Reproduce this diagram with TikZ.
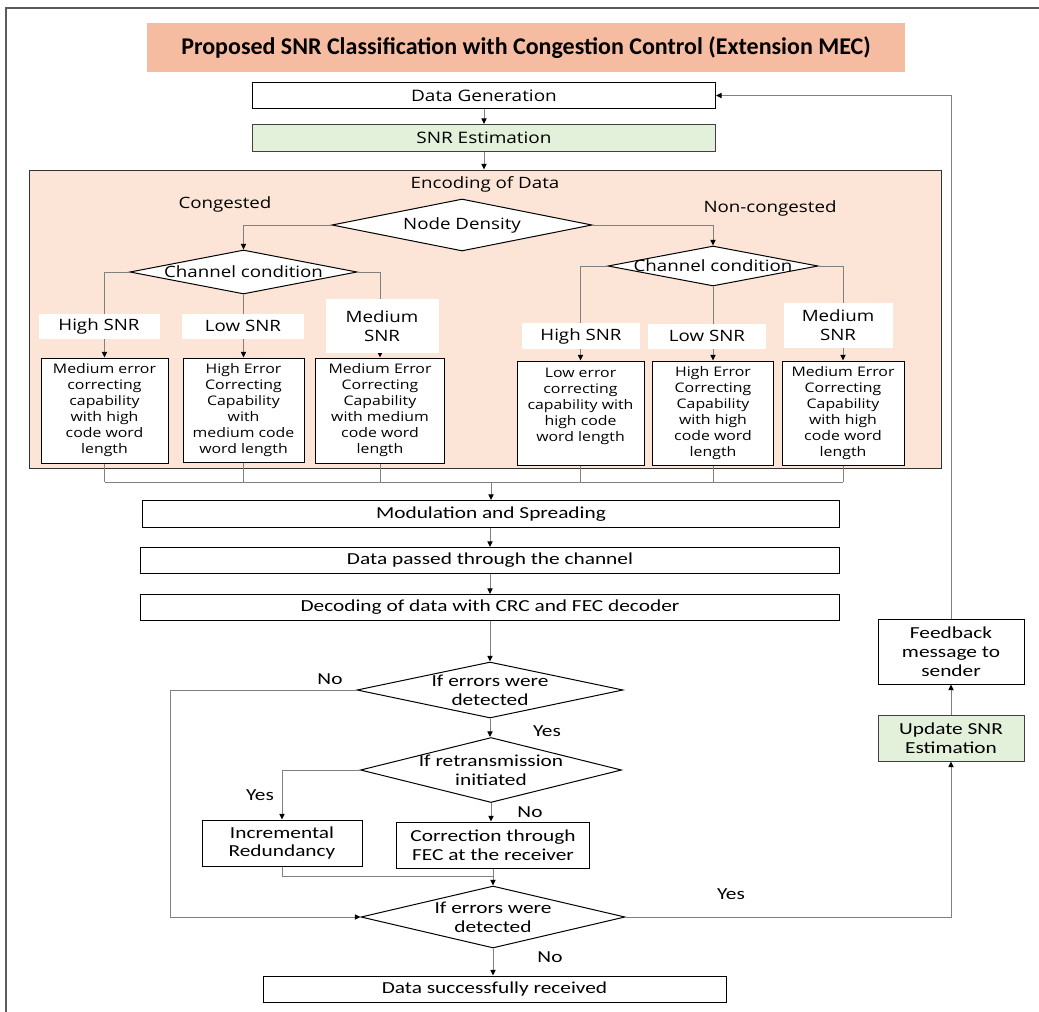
\documentclass[tikz,border=0pt]{standalone}
\usepackage{fontspec}
\setmainfont{Open Sans}[FakeStretch=1.2]
\newfontfamily\calfont{Carlito}[FakeStretch=1.27]
\newfontfamily\titlefam{Carlito}
\usepackage{tikz}
\usetikzlibrary{shapes.geometric,positioning,arrows.meta}

\definecolor{titlefill}{RGB}{246,188,162}
\definecolor{encfill}{RGB}{252,229,214}
\definecolor{snrfill}{RGB}{227,240,218}
\definecolor{framegray}{RGB}{90,90,90}
\definecolor{linegray}{RGB}{128,128,128}

\newcommand{\titlesize}{\titlefam\bfseries\fontsize{12}{14}\selectfont}
\newcommand{\topsize}{\fontsize{7.9}{9.5}\selectfont}
\newcommand{\labsize}{\fontsize{7.8}{9.4}\selectfont}
\newcommand{\boxsize}{\fontsize{6.6}{8}\selectfont}
\newcommand{\calsize}{\calfont\fontsize{8.4}{9.4}\selectfont}

\tikzset{
  conn/.style={draw=linegray, line width=0.5pt},
  flow/.style={conn, -{Triangle[length=2.8pt,width=2.6pt,color=black]}},
  procbox/.style={draw=black, line width=0.5pt, fill=white, inner sep=0pt, align=center, font=\calsize},
  topbox/.style={procbox, font=\topsize},
  greenbox/.style={procbox, fill=snrfill, draw=black!75},
  codebox/.style={draw=black, line width=0.5pt, fill=white, inner sep=0pt, align=center, font=\boxsize},
  snrlab/.style={fill=white, inner sep=0pt, align=center, font=\labsize},
  choice/.style={diamond, draw=black, line width=0.5pt, fill=white, inner sep=0pt},
  plain/.style={inner sep=0pt, font=\labsize},
  answer/.style={inner sep=0pt, font=\calsize}
}

\begin{document}
\begin{tikzpicture}[x=0.5pt, y=-0.5pt]

    \useasboundingbox (0,0) rectangle (1039,1012);
    \draw[framegray, line width=1pt] (6,1012) -- (6,8) -- (1039,8);

    % header and the first two steps
    \node[fill=titlefill, minimum width=379pt, minimum height=24.5pt, font=\titlesize] (title) at (526,47.5) {Proposed SNR Classification with Congestion Control (Extension MEC)};
    \node[topbox, minimum width=231.5pt, minimum height=13pt] (gen) at (484,95.5) {Data Generation};
    \node[topbox, greenbox, font=\topsize, minimum width=231.5pt, minimum height=13.5pt] (snr) at (484,138) {SNR Estimation};

    % encoding block
    \node[draw=black!80, line width=0.5pt, fill=encfill, minimum width=456pt, minimum height=149pt] (enc) at (485,319) {};
    \node[plain] (enctitle) at (485,184) {Encoding of Data};
    \node[plain] (cong) at (225,204) {Congested};
    \node[plain] (ncong) at (770,208) {Non-congested};

    \node[choice, minimum width=130pt, minimum height=26pt, label={[plain]center:Node Density}] (nd) at (462,225) {};
    \node[choice, minimum width=113.5pt, minimum height=22pt, label={[plain]center:Channel condition}] (ccL) at (243.5,272) {};
    \node[choice, minimum width=105pt, minimum height=20pt, label={[plain]center:Channel condition}] (ccR) at (713,266) {};

    \node[codebox, minimum width=63.5pt, minimum height=52.5pt] (bL1) at (104.5,410.5) {Medium error\\correcting\\capability\\with high\\code word\\length};
    \node[codebox, minimum width=60.5pt, minimum height=52pt] (bL2) at (243.5,410) {High Error\\Correcting\\Capability\\with\\medium code\\word length};
    \node[codebox, minimum width=64.5pt, minimum height=52.5pt] (bL3) at (380,410.5) {Medium Error\\Correcting\\Capability\\with medium\\code word\\length};
    \node[codebox, minimum width=63.5pt, minimum height=52pt] (bR1) at (580.5,413) {Low error\\correcting\\capability with\\high code\\word length\\\mbox{}};
    \node[codebox, minimum width=60.5pt, minimum height=52pt] (bR2) at (713,413) {High Error\\Correcting\\Capability\\with high\\code word\\length};
    \node[codebox, minimum width=61pt, minimum height=52pt] (bR3) at (843,413) {Medium Error\\Correcting\\Capability\\with high\\code word\\length};

    \draw[flow] (gen) -- (snr);
    \draw[flow] (snr.south) -- (snr.south |- enc.north);
    \draw[flow] (nd.west) -| (ccL.north);
    \draw[flow] (nd.east) -| (ccR.north);
    \draw[flow] (ccL.west) -| (bL1.north);
    \draw[flow] (ccL.south) -- (bL2.north);
    \draw[flow] (ccL.east) -| (bL3.north);
    \draw[flow] (ccR.west) -| (bR1.north);
    \draw[flow] (ccR.south) -- (bR2.north);
    \draw[flow] (ccR.east) -| (bR3.north);

    % SNR classes sit on top of the branches
    \node[snrlab, minimum width=60.5pt, minimum height=12.5pt] (hL) at (99,326) {High SNR};
    \node[snrlab, minimum width=61pt, minimum height=12.5pt] (lL) at (243,326) {Low SNR};
    \node[snrlab, minimum width=56.5pt, minimum height=27pt] (mL) at (382,326) {Medium\\SNR};
    \node[snrlab, minimum width=59pt, minimum height=13pt] (hR) at (581,336) {High SNR};
    \node[snrlab, minimum width=59pt, minimum height=12.5pt] (lR) at (707,336) {Low SNR};
    \node[snrlab, minimum width=54.5pt, minimum height=22.5pt] (mR) at (838,325) {Medium\\SNR};

    % transmission chain
    \coordinate (mrg) at (491,482);
    \node[procbox, minimum width=348.5pt, minimum height=13.5pt] (mod) at (491,514) {Modulation and Spreading};
    \node[procbox, minimum width=349.5pt, minimum height=13pt] (chan) at (490,560.5) {Data passed through the channel};
    \node[procbox, minimum width=349.5pt, minimum height=13pt] (dec) at (490,607.5) {Decoding of data with CRC and FEC decoder};

    \foreach \b in {bL1,bL2,bL3,bR1,bR2,bR3}
        \draw[conn] (\b.south) -- (\b.south |- mrg);
    \draw[conn] (bL1.south |- mrg) -- (bR3.south |- mrg);
    \draw[flow] (mrg) -- (mrg |- mod.north);
    \draw[flow] (mod.south -| chan) -- (chan);
    \draw[flow] (chan) -- (dec);

    % error handling
    \node[choice, minimum width=133pt, minimum height=28pt, label={[answer, align=center]center:If errors were\\detected}] (d1) at (490,690) {};
    \node[choice, minimum width=130.5pt, minimum height=32.5pt, label={[answer, align=center]center:If retransmission\\initiated}] (d2) at (491,770) {};
    \node[procbox, minimum width=80pt, minimum height=23pt] (inc) at (282,843) {Incremental\\Redundancy};
    \node[procbox, minimum width=96.5pt, minimum height=23pt] (cor) at (493,845) {Correction through\\FEC at the receiver};
    \node[choice, minimum width=132pt, minimum height=31pt, label={[answer, align=center]center:If errors were\\detected}] (d3) at (493,917) {};
    \node[procbox, minimum width=231.5pt, minimum height=13pt] (rec) at (494.5,989) {Data successfully received};
    \node[procbox, minimum width=73pt, minimum height=32.5pt] (fb) at (951,651.5) {Feedback\\message to\\sender};
    \node[greenbox, minimum width=73pt, minimum height=23pt] (upd) at (951,738) {Update SNR\\Estimation};

    \node[answer] (no1) at (330,679) {No};
    \node[answer] (yes1) at (547,731) {Yes};
    \node[answer] (yes2) at (260,795) {Yes};
    \node[answer] (no2) at (530,812) {No};
    \node[answer] (yes3) at (731,894) {Yes};
    \node[answer] (no3) at (550,957) {No};

    \coordinate (lft) at (170,690);
    \coordinate (jn) at (493,876);
    \draw[flow] (dec) -- (d1);
    \draw[flow] (d1.west) -- (lft) |- (d3.west);
    \draw[flow] (d1.south) -- (d1.south |- d2.north);
    \draw[flow] (d2.west) -| (inc.north);
    \draw[flow] (d2.south) -- (d2.south |- cor.north);
    \draw[conn] (inc.south) |- (jn);
    \draw[flow] (cor) -- (d3);
    \draw[flow] (d3) -- (d3 |- rec.north);
    \draw[flow] (d3.east) -| (upd.south);
    \draw[flow] (upd) -- (fb);
    \draw[flow] (fb.north) |- (gen.east);

\end{tikzpicture}
\end{document}
